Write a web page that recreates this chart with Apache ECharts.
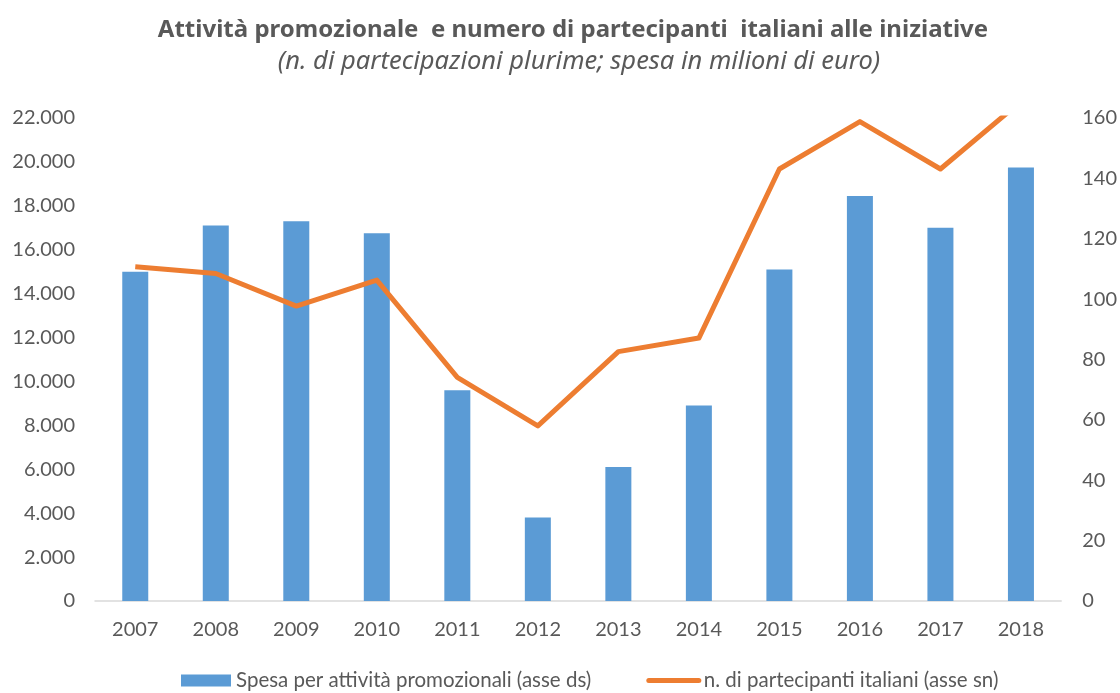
<!DOCTYPE html>
<html>
<head>
<meta charset="utf-8">
<script src="https://cdn.jsdelivr.net/npm/echarts@6/dist/echarts.min.js"></script>
<style>
  html, body { margin: 0; padding: 0; background: #fff; }
  #chart { width: 1120px; height: 693px; }
</style>
</head>
<body>
<div id="chart"></div>
<script>
var anni = ['2007', '2008', '2009', '2010', '2011', '2012', '2013', '2014', '2015', '2016', '2017', '2018']
// spesa per attività promozionali
var spesa = [15000, 17100, 17300, 16750, 9600, 3800, 6100, 8900, 15100, 18450, 17000, 19750]
// numero di partecipanti italiani
var partecipanti = [110.7, 108.5, 97.7, 106.3, 74.1, 58, 82.6, 87.1, 143.1, 158.8, 143.1, 165.5]

var grigio = '#595959'
var font = 'Lato'

function migliaia(v) {
  return String(v).replace(/\B(?=(\d{3})+(?!\d))/g, '.')
}

var chart = echarts.init(document.getElementById('chart'))
var option = {
  animation: false,
  textStyle: { fontFamily: font },
  title: [{
    text: 'Attività promozionale  e numero di partecipanti  italiani alle iniziative',
    left: 568,
    textAlign: 'center',
    top: 13,
    textStyle: { fontFamily: 'Noto Sans', fontSize: 24, fontWeight: 'bold', color: grigio }
  }, {
    text: '(n. di partecipazioni plurime; spesa in milioni di euro)',
    left: 574,
    textAlign: 'center',
    top: 44,
    textStyle: { fontFamily: 'Noto Sans', fontSize: 25.5, fontWeight: 'normal', fontStyle: 'italic', color: grigio }
  }],
  legend: {
    top: 665,
    left: 176,
    itemWidth: 50,
    itemHeight: 12,
    itemGap: 55,
    textStyle: { fontFamily: font, fontSize: 20.5, color: grigio },
    data: [
      { name: 'Spesa per attività promozionali (asse ds)', icon: 'rect' },
      { name: 'n. di partecipanti italiani (asse sn)', itemStyle: { color: 'rgba(0,0,0,0)', borderWidth: 0 }, lineStyle: { width: 5, cap: 'round' } }
    ]
  },
  grid: { left: 95, right: 58, top: 118, bottom: 92 },
  xAxis: {
    type: 'category',
    data: anni,
    axisLine: { lineStyle: { color: '#d9d9d9', width: 1.5 } },
    axisTick: { show: false },
    axisLabel: { color: grigio, fontSize: 20, margin: 19 }
  },
  yAxis: [{
    type: 'value',
    min: 0,
    max: 22000,
    interval: 2000,
    splitLine: { show: false },
    axisLine: { show: false },
    axisLabel: { color: grigio, fontSize: 20, margin: 20, formatter: migliaia }
  }, {
    type: 'value',
    min: 0,
    max: 160,
    interval: 20,
    splitLine: { show: false },
    axisLine: { show: false },
    axisLabel: { color: grigio, fontSize: 20, margin: 21 }
  }],
  series: [{
    name: 'Spesa per attività promozionali (asse ds)',
    type: 'bar',
    data: spesa,
    barWidth: 26,
    itemStyle: { color: '#5b9bd5' }
  }, {
    name: 'n. di partecipanti italiani (asse sn)',
    type: 'line',
    yAxisIndex: 1,
    data: partecipanti,
    symbol: 'none',
    clip: true,
    lineStyle: { color: '#ed7d31', width: 5, join: 'round' },
    itemStyle: { color: '#ed7d31' }
  }]
}
chart.setOption(option)
</script>
</body>
</html>
